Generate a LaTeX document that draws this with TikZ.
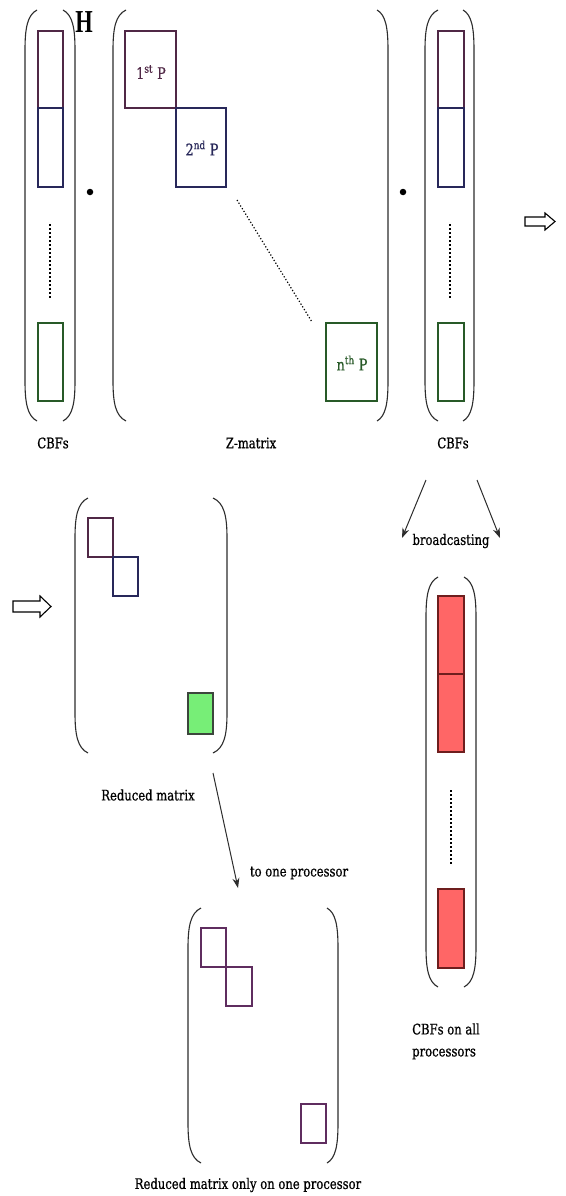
\documentclass[tikz,border=0pt]{standalone}
\usepackage{fontspec}
\setmainfont{DejaVu Serif}[FakeStretch=0.8,FakeBold=0.7]
\newfontfamily\hfont{Liberation Serif}[FakeStretch=0.7]
\usetikzlibrary{arrows.meta}
\definecolor{parcol}{RGB}{45,45,45}
\definecolor{cola}{RGB}{80,40,70}
\definecolor{colb}{RGB}{40,40,90}
\definecolor{colc}{RGB}{40,90,40}
\definecolor{cold}{RGB}{95,45,95}
\definecolor{redfill}{RGB}{255,102,102}
\definecolor{redline}{RGB}{110,30,30}
\definecolor{greenfill}{RGB}{119,238,119}
\definecolor{greenline}{RGB}{60,70,60}
\tikzset{
  paren/.style={draw=parcol, line width=1.1pt},
  lbl/.style={font=\fontsize{14.5}{17}\selectfont, text=black, inner sep=0pt},
  plbl/.style={font=\fontsize{16}{19}\selectfont, inner sep=0pt},
  boxa/.style={draw=cola, line width=1.3pt},
  boxb/.style={draw=colb, line width=1.3pt},
  boxc/.style={draw=colc, line width=1.3pt},
  boxd/.style={draw=cold, line width=1.3pt},
  redbox/.style={draw=redline, fill=redfill, line width=1.3pt},
  greenbox/.style={draw=greenline, fill=greenfill, line width=1.3pt},
  dotline/.style={draw=black, line width=1.5pt, dash pattern=on 1.5pt off 2.5pt},
  ptr/.style={-{Stealth[length=10pt,width=7pt]}, line width=1pt, draw=parcol},
  hollow/.style={draw=black, fill=white, line width=1.1pt, line join=miter},
  mult/.style={circle, fill=black, inner sep=0pt, minimum size=6.5pt}
}
% paren: x of line, x of ends, top, bottom
\newcommand\parenA[4]{%
  \draw[paren] (#2,#3) .. controls ({0.8*#1+0.2*#2},{#3+5}) and (#1,{#3+18}) .. (#1,{#3+40})
    -- (#1,{#4-40}) .. controls (#1,{#4-18}) and ({0.8*#1+0.2*#2},{#4-5}) .. (#2,#4);}
\begin{document}
\begin{tikzpicture}[x=1pt,y=-1pt]
\useasboundingbox (0,0) rectangle (565,1196);
\fill[white] (0,0) rectangle (565,1196);

% ---------- top row: left CBFs ----------
\parenA{25}{37}{10}{421}
\parenA{75}{63}{10}{421}
\draw[boxa] (38,31) rectangle (63,108);
\draw[boxb] (38,108) rectangle (63,187);
\draw[dotline] (50,224) -- (50,298);
\draw[boxc] (38,323) rectangle (63,401);
\node[font=\hfont\bfseries\fontsize{32}{34}\selectfont, inner sep=0pt] (H) at (84,22) {H};
\node[mult] (dot1) at (90,192) {};

% ---------- Z matrix ----------
\parenA{113}{126}{10}{421}
\parenA{388}{377}{10}{421}
\draw[boxa] (125,31) rectangle (176,108);
\draw[boxb] (176,108) rectangle (226,187);
\draw[boxc] (326,323) rectangle (377,401);
\node[plbl, text=cola] (p1) at (151,72) {1\textsuperscript{st} P};
\node[plbl, text=colb] (p2) at (202,148) {2\textsuperscript{nd} P};
\node[plbl, text=colc] (pn) at (352,363) {n\textsuperscript{th} P};
\draw[dotline, line width=1.2pt, dash pattern=on 1.2pt off 2pt] (237,200) -- (312,322);
\node[mult] (dot2) at (403,192) {};

% ---------- right CBFs ----------
\parenA{425}{438}{10}{421}
\parenA{474}{463}{10}{421}
\draw[boxa] (438,31) rectangle (464,108);
\draw[boxb] (438,108) rectangle (464,187);
\draw[dotline] (450,224) -- (450,298);
\draw[boxc] (438,323) rectangle (464,401);

% hollow arrow top
\draw[hollow] (525,217) -- (545,217) -- (545,213) -- (555,221.5) -- (545,230) -- (545,226) -- (525,226) -- cycle;

% labels top
\node[lbl] (lcbf1) at (53,443) {CBFs};
\node[lbl] (lzm) at (251,443) {Z-matrix};
\node[lbl] (lcbf2) at (453,443) {CBFs};

% ---------- broadcasting ----------
\coordinate (b1s) at (426,480);
\coordinate (b1e) at (402,538);
\coordinate (b2s) at (477,480);
\coordinate (b2e) at (500,538);
\draw[ptr] (b1s) -- (b1e);
\draw[ptr] (b2s) -- (b2e);
\node[lbl] (lbc) at (451,541) {broadcasting};

% red column
\parenA{426}{438}{577}{987}
\parenA{476}{464}{577}{987}
\draw[redbox] (438,596) rectangle (464,674);
\draw[redbox] (438,674) rectangle (464,752);
\draw[dotline] (451,790) -- (451,865);
\draw[redbox] (438,889) rectangle (464,968);
\node[lbl, anchor=west] (lall1) at (412,1029) {CBFs on all};
\node[lbl, anchor=west] (lall2) at (412,1054) {processors};

% ---------- reduced matrix ----------
\draw[hollow] (13,601) -- (40,601) -- (40,596) -- (51,606.5) -- (40,617) -- (40,612) -- (13,612) -- cycle;
\parenA{75}{88}{498}{753}
\parenA{227}{213}{498}{753}
\draw[boxa] (88,518) rectangle (113,557);
\draw[boxb] (113,557) rectangle (138,596);
\draw[greenbox] (188,693) rectangle (213,734);
\node[lbl] (lred) at (148,795) {Reduced matrix};

\coordinate (rs) at (213,773);
\coordinate (re) at (238,888);
\draw[ptr] (rs) -- (re);
\node[lbl] (lone) at (299,873) {to one processor};

% ---------- bottom matrix ----------
\parenA{188}{201}{908}{1163}
\parenA{338}{327}{908}{1163}
\draw[boxd] (201,928) rectangle (226,967);
\draw[boxd] (226,967) rectangle (252,1006);
\draw[boxd] (301,1104) rectangle (326,1143);
\node[lbl] (lbot) at (248,1185) {Reduced matrix only on one processor};
\end{tikzpicture}
\end{document}
